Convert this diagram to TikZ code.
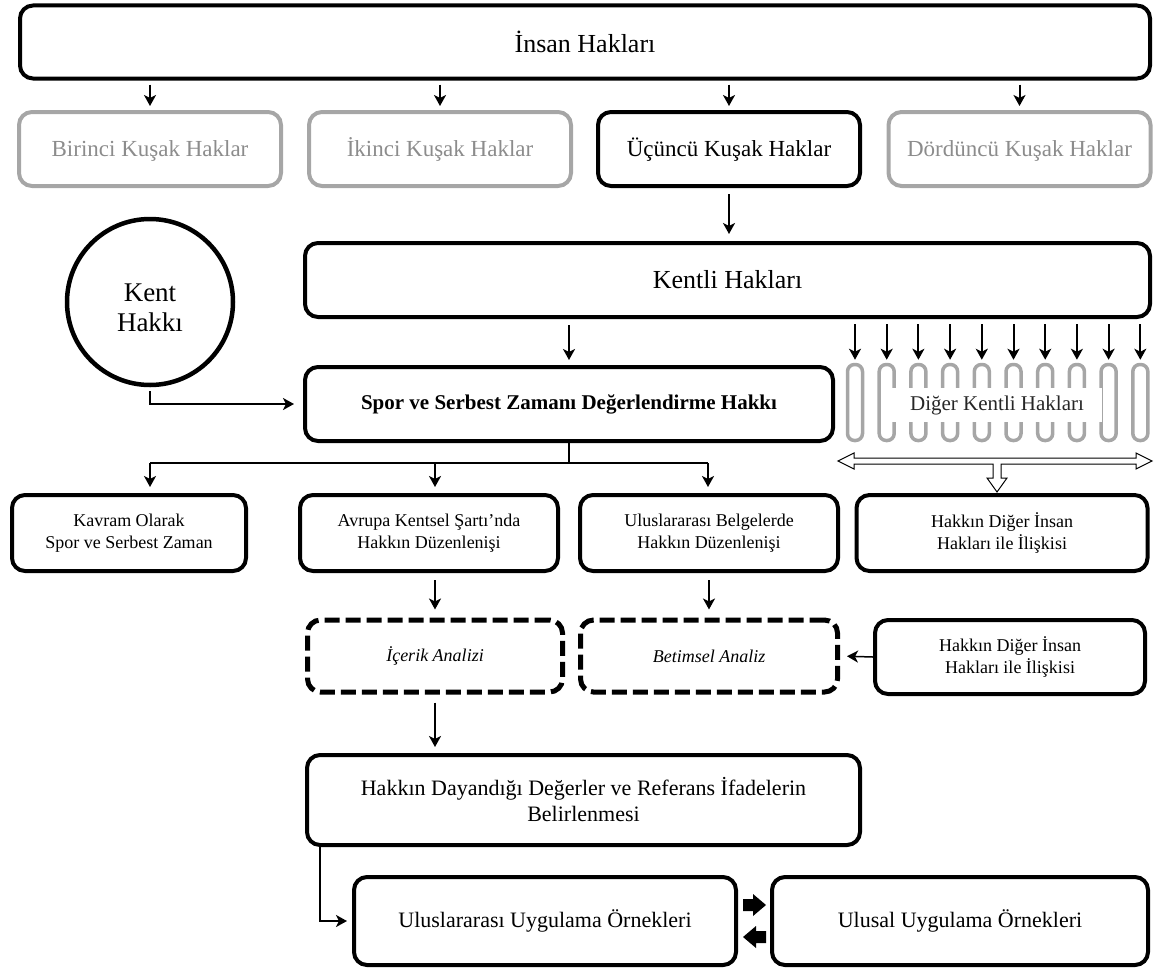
\documentclass[tikz,border=0pt]{standalone}
\usepackage{fontspec}
\setmainfont{Liberation Serif}
\usetikzlibrary{arrows.meta}
\definecolor{rimgray}{HTML}{A6A6A6}
\definecolor{txtgray}{HTML}{8C8C8C}
\newcommand{\fsz}[2]{\fontsize{#1}{#2}\selectfont}
\begin{document}
\begin{tikzpicture}[x=1pt, y=-1pt,
    box/.style={draw, line width=4pt, rounded corners=13pt, align=center, inner sep=0pt},
    genbox/.style={box, font=\fsz{23}{28}, text height=17pt, text depth=3pt, minimum width=262pt, minimum height=74pt},
    graybox/.style={genbox, draw=rimgray, text=txtgray},
    smallbox/.style={box, font=\fsz{18}{22}, minimum height=76pt},
    dashbox/.style={box, line width=5pt, dash pattern=on 15pt off 6pt, font=\fsz{18}{22}\itshape},
    rod/.style={draw=rimgray, line width=3.5pt, rounded corners=7pt, minimum width=15pt, minimum height=76pt, inner sep=0pt},
    arr/.style={line width=2pt, -{Stealth[length=11pt, width=12pt, inset=3pt]}}]
    \useasboundingbox (0,0) rectangle (1155,974);
    % top level
    \node[box, font=\fsz{26}{31}, minimum width=1130pt, minimum height=73pt] (insan) at (585,42) {İnsan Hakları};
    % generations of rights
    \node[graybox] (birinci) at (150,149) {Birinci Kuşak Haklar};
    \node[graybox] (ikinci) at (440,149) {İkinci Kuşak Haklar};
    \node[genbox] (ucuncu) at (729,149) {Üçüncü Kuşak Haklar};
    \node[graybox] (dorduncu) at (1019.5,149) {Dördüncü Kuşak Haklar};
    \foreach \g in {birinci,ikinci,ucuncu,dorduncu}
        \draw[arr, shorten <=4pt, shorten >=4pt] (insan.south -| \g.north) -- (\g.north);
    % urban rights
    \node[box, font=\fsz{26}{31}, minimum width=845pt, minimum height=74pt] (kentli) at (727.5,280) {Kentli Hakları};
    \draw[arr, shorten <=6pt, shorten >=7pt] (ucuncu.south) -- (ucuncu.south |- kentli.north);
    \node[circle, draw, line width=4.5pt, minimum size=166pt, inner sep=0pt] (kent) at (150,302) {};
    \node[align=center, font=\fsz{27}{30}] (kentlbl) at ([yshift=-6pt]kent.center) {Kent\\Hakkı};
    % sport and leisure
    \node[box, font=\fsz{21}{25}\bfseries, minimum width=528pt, minimum height=74pt] (spor) at (569,404) {Spor ve Serbest Zamanı Değerlendirme Hakkı};
    \draw[arr, shorten <=6pt, shorten >=5pt] (kentli.south -| spor.north) -- (spor.north);
    \draw[arr, shorten <=4pt, shorten >=9pt] (kent.south) |- (spor.west);
    % other urban rights
    \foreach \i in {0,...,9}{
        \node[rod] (rod\i) at ({855+31.7*\i},402.5) {};
        \draw[arr, shorten <=5pt, shorten >=3pt] (kentli.south -| rod\i.north) -- (rod\i.north);
    }
    \node[fill=white, minimum width=210pt, minimum height=34pt, font=\fsz{21}{25}, text=black!85] (diger) at (997,405) {Diğer Kentli Hakları};
    % hollow double arrow
    \draw[line width=1pt, fill=white] (838,461) -- (854,453) -- (854,458) -- (1136,458) -- (1136,453) -- (1152,461)
        -- (1136,469) -- (1136,464) -- (1001,464) -- (1001,478) -- (1007,478) -- (997,492) -- (987,478)
        -- (993,478) -- (993,464) -- (854,464) -- (854,469) -- cycle;
    % second row
    \node[smallbox, minimum width=234pt] (kavram) at (129,533) {Kavram Olarak\\Spor ve Serbest Zaman};
    \node[smallbox, minimum width=258pt] (avrupa) at (429,533) {Avrupa Kentsel Şartı’nda\\Hakkın Düzenlenişi};
    \node[smallbox, minimum width=258pt] (belge) at (709,533) {Uluslararası Belgelerde\\Hakkın Düzenlenişi};
    \node[smallbox, minimum width=291pt] (iliski) at (1002,533) {Hakkın Diğer İnsan\\Hakları ile İlişkisi};
    % branches
    \coordinate (b1) at (150,463);
    \coordinate (b2) at (435,463);
    \coordinate (b3) at (708,463);
    \draw[line width=1.5pt] (spor.south) -- (spor.south |- b1);
    \draw[line width=2pt] (b1) -- (b3);
    \foreach \b/\n in {b1/kavram,b2/avrupa,b3/belge}
        \draw[arr, shorten >=6pt] (\b) -- (\b |- \n.north);
    % analysis
    \node[dashbox, minimum width=255pt, minimum height=72pt] (icerik) at (435,656) {İçerik Analizi};
    \node[dashbox, minimum width=257pt, minimum height=72pt] (betim) at (709,656) {Betimsel Analiz};
    \node[smallbox, minimum width=270pt, minimum height=74pt] (iliskib) at (1010,657) {Hakkın Diğer İnsan\\Hakları ile İlişkisi};
    \draw[arr, shorten <=7pt, shorten >=8pt] (avrupa.south -| icerik.north) -- (icerik.north);
    \draw[arr, shorten <=7pt, shorten >=8pt] (belge.south -| betim.north) -- (betim.north);
    \draw[arr, line width=1.5pt, shorten >=7pt] (iliskib.west) -- (betim.east);
    % values
    \node[box, font=\fsz{22}{26}, minimum width=553pt, minimum height=90pt] (deger) at (583.5,800) {Hakkın Dayandığı Değerler ve Referans İfadelerin\\Belirlenmesi};
    \draw[arr, shorten <=8pt, shorten >=6pt] (icerik.south) -- (icerik.south |- deger.north);
    % practice
    \node[box, font=\fsz{22}{26}, minimum width=382pt, minimum height=88pt] (uygint) at (545,921) {Uluslararası Uygulama Örnekleri};
    \node[box, font=\fsz{22}{26}, minimum width=376pt, minimum height=88pt] (uygnat) at (960,921) {Ulusal Uygulama Örnekleri};
    \draw[arr, shorten >=5pt] ([xshift=15pt]deger.south west) |- (uygint.west);
    % block arrows
    \fill (743,899) -- (753,899) -- (753,894) -- (766,905) -- (753,916) -- (753,911) -- (743,911) -- cycle;
    \fill (766,931) -- (756,931) -- (756,926) -- (743,937) -- (756,948) -- (756,943) -- (766,943) -- cycle;
\end{tikzpicture}
\end{document}
